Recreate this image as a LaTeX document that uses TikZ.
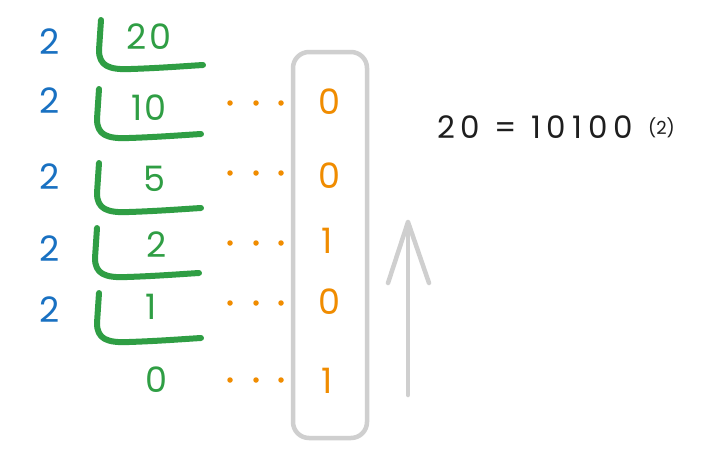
\documentclass[tikz,border=0pt]{standalone}
\usepackage{fontspec}
\setmainfont{Poppins}
\newfontfamily\resfont[LetterSpace=19]{Poppins}
\newfontfamily\quotfont[LetterSpace=8]{Poppins}
\definecolor{blu}{HTML}{1971C2}
\definecolor{grn}{HTML}{2F9E44}
\definecolor{org}{HTML}{F08C00}
\definecolor{gry}{HTML}{CFCFCF}
\definecolor{ink}{HTML}{1E1E1E}
\tikzset{
  dig/.style={font=\fontsize{35}{35}\selectfont, inner sep=0pt},
  divisor/.style={dig, text=blu},
  quot/.style={font=\quotfont\fontsize{35}{35}\selectfont, inner sep=0pt, text=grn},
  bit/.style={dig, text=org},
  dotmark/.style={circle, fill=org, inner sep=0pt, minimum size=5.5pt},
  brk/.pic={\draw[grn, line width=6pt, line cap=round, line join=round]
     (0,0) -- (-2,30) .. controls (-2,46) and (8,50) .. (30,49) .. controls (60,48) and (85,46) .. (102,45);},
  boxline/.style={draw=gry, line width=4.5pt, rounded corners=16pt},
  arrline/.style={draw=gry, line width=4.5pt, line cap=round, line join=round},
}
\begin{document}
\begin{tikzpicture}[x=1pt,y=-1pt]
\useasboundingbox[fill=white] (0,0) rectangle (708,453);
% divisors
\node[divisor] (d1) at (50,42) {2};
\node[divisor] (d2) at (50,101) {2};
\node[divisor] (d3) at (50,177) {2};
\node[divisor] (d4) at (50,249) {2};
\node[divisor] (d5) at (50,310) {2};
% quotients
\node[quot] (q1) at (149,37) {20};
\node[quot] (q2) at (149,108) {10};
\node[quot] (q3) at (154,179) {5};
\node[quot] (q4) at (157,245) {2};
\node[quot] (q5) at (151,307) {1};
\node[quot] (q6) at (156,380) {0};
% brackets
\pic at (101,20) {brk};
\pic at (99,89) {brk};
\pic at (99,163) {brk};
\pic at (97,228) {brk};
\pic at (99,293) {brk};
% remainder bits
\node[bit] (b1) at (329,102) {0};
\node[bit] (b2) at (329,176) {0};
\node[bit] (b3) at (327,241) {1};
\node[bit] (b4) at (329,302) {0};
\node[bit] (b5) at (327,381) {1};
% dots
\foreach \yy/\k in {103/1,173/2,243/3,303/4,380/5}{
  \node[dotmark] (p\k a) at (230,\yy) {};
  \node[dotmark] (p\k b) at (256,\yy) {};
  \node[dotmark] (p\k c) at (281,\yy) {};
}
% box
\draw[boxline] (293,52) rectangle (367,438);
% arrow
\coordinate (atail) at (408,395);
\coordinate (atip) at (408,222);
\coordinate (aleft) at (388,283);
\coordinate (aright) at (429,283);
\draw[arrline] (atail) -- (atip);
\draw[arrline] (aleft) -- (atip) -- (aright);
% result
\node[font=\resfont\fontsize{31}{31}\selectfont, text=ink, inner sep=0pt, anchor=west] (res) at (437,127) {20 = 10100};
\node[font=\fontsize{18}{18}\selectfont, text=ink, inner sep=0pt, anchor=west] (base) at (648,128) {(2)};
\end{tikzpicture}
\end{document}
